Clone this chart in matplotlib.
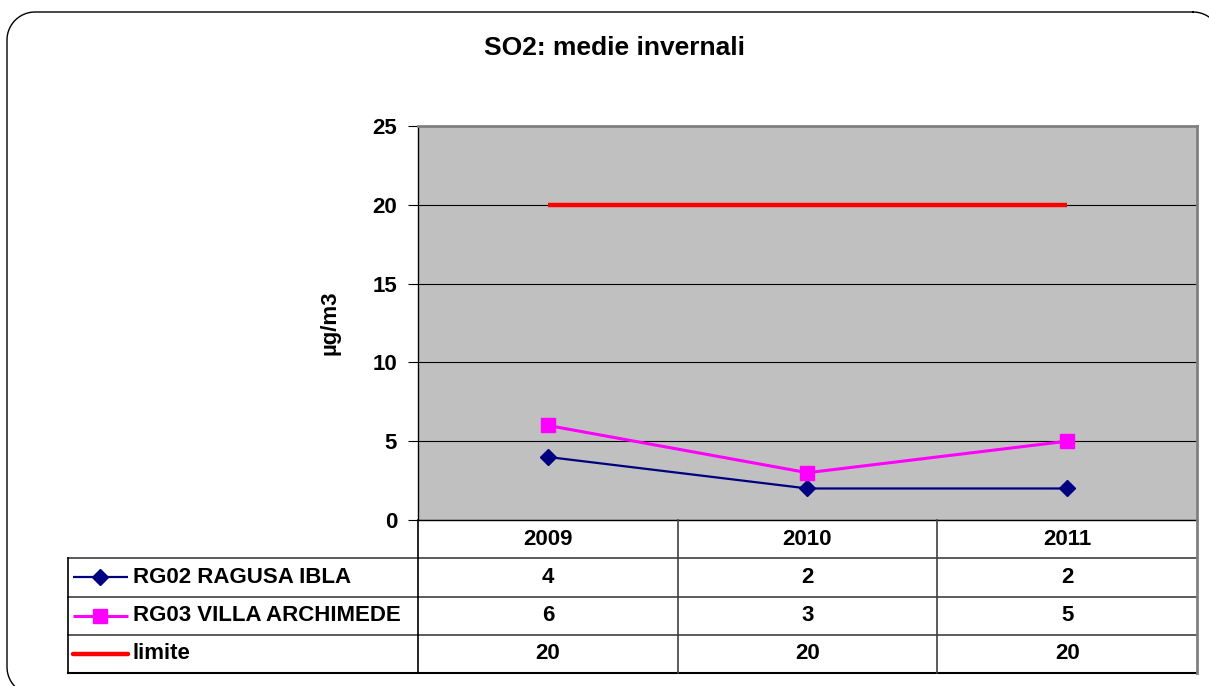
import numpy as np
import matplotlib
matplotlib.use('Agg')
import matplotlib.pyplot as plt
from matplotlib.lines import Line2D

plt.rc('font', family='Liberation Sans', weight='bold')

# data
years = ['2009', '2010', '2011']
rg02 = [4, 2, 2]
rg03 = [6, 3, 5]
limite = [20, 20, 20]

names = ['RG02 RAGUSA IBLA', 'RG03 VILLA ARCHIMEDE', 'limite']
values = [rg02, rg03, limite]
colors = ['#000080', '#FF00FF', '#FF0000']
markers = ['D', 's', None]
msizes = [8, 10.5, 0]
lwidths = [1.6, 2.2, 3.2]

W, H = 1209, 686
fig = plt.figure(figsize=(W / 100, H / 100), dpi=100)

# rounded frame in figure fractions (runs off the right and bottom edges)
def rounded_rect(l, t, r, b, rad, n=20):
    pts = []
    corners = [(r - rad, t + rad, -90, 0), (r - rad, b - rad, 0, 90),
               (l + rad, b - rad, 90, 180), (l + rad, t + rad, 180, 270)]
    for cx, cy, a0, a1 in corners:
        a = np.radians(np.linspace(a0, a1, n))
        pts += list(zip(cx + rad * np.cos(a), cy + rad * np.sin(a)))
    pts.append(pts[0])
    px = np.array([p[0] for p in pts])
    py = np.array([p[1] for p in pts])
    return px / W, 1 - py / H

fx, fy = rounded_rect(7, 12, 1221, 695, 28)
fig.add_artist(Line2D(fx, fy, transform=fig.transFigure, color='black', linewidth=1.0))

# plot area
x0, x1, ytop, ybot = 418, 1197, 126, 520
ax = fig.add_axes([x0 / W, (H - ybot) / H, (x1 - x0) / W, (ybot - ytop) / H])
ax.set_facecolor('#C0C0C0')
x = np.arange(len(years))
for v, c, m, ms, lw in zip(values, colors, markers, msizes, lwidths):
    ax.plot(x, v, color=c, marker=m, markersize=ms, linewidth=lw,
            solid_capstyle='butt', zorder=3)
ax.set_xlim(-0.5, 2.5)
ax.set_ylim(0, 25)
ax.set_yticks([0, 5, 10, 15, 20, 25])
ax.set_xticks([])
ax.grid(axis='y', color='black', linewidth=0.8)
ax.set_axisbelow(True)
ax.tick_params(axis='y', direction='out', length=7, width=0.8, pad=8, labelsize=16)
for s in ['top', 'right']:
    ax.spines[s].set_color('#808080')
    ax.spines[s].set_linewidth(2)
ax.spines['left'].set_linewidth(1)
ax.spines['bottom'].set_linewidth(1)
ax.set_ylabel('µg/m3', fontsize=16, fontweight='bold')
ax.yaxis.set_label_coords(-0.1, 0.5)

fig.text(614 / W, (H - 48) / H, 'SO2: medie invernali', ha='center', va='center',
         fontsize=19, fontweight='bold')

# data table
tx0, tbot = 68, 673
u = 3 / (x1 - x0)
def px2x(px):
    return -0.5 + (px - x0) * u

tab = fig.add_axes([tx0 / W, (H - tbot) / H, (x1 - tx0) / W, (tbot - ybot) / H])
tab.set_xlim(px2x(tx0), 2.5)
tab.set_ylim(4, 0)
tab.axis('off')
left = px2x(tx0)
lk = dict(color='#404040', linewidth=1.2, clip_on=False)
# horizontal lines
for r in [1, 2, 3]:
    tab.plot([left, 2.5], [r, r], **lk)
tab.plot([left, 2.5], [4, 4], color='black', linewidth=1.5, clip_on=False)
# vertical lines
tab.plot([left, left], [1, 4], color='black', linewidth=1.2, clip_on=False)
tab.plot([-0.5, -0.5], [0, 4], color='black', linewidth=1.2, clip_on=False)
for b in [0.5, 1.5]:
    tab.plot([b, b], [0, 4], **lk)
tab.plot([2.5, 2.5], [0, 4], color='#808080', linewidth=2, clip_on=False)

for i, yr in enumerate(years):
    tab.text(i, 0.5, yr, ha='center', va='center', fontsize=16, fontweight='bold')
for r, (nm, v, c, m, ms, lw) in enumerate(zip(names, values, colors, markers, msizes, lwidths), start=1):
    ky = r + 0.5
    cap = 'round' if m is None else 'butt'
    tab.plot([px2x(73), px2x(128)], [ky, ky], color=c, linewidth=lw,
             solid_capstyle=cap, clip_on=False)
    if m is not None:
        tab.plot([px2x(100)], [ky], color=c, marker=m, markersize=ms, clip_on=False)
    tab.text(px2x(133), ky, nm, ha='left', va='center', fontsize=16, fontweight='bold')
    for i, val in enumerate(v):
        tab.text(i, ky, str(val), ha='center', va='center', fontsize=16, fontweight='bold')

fig.savefig('out.png', dpi=100)
